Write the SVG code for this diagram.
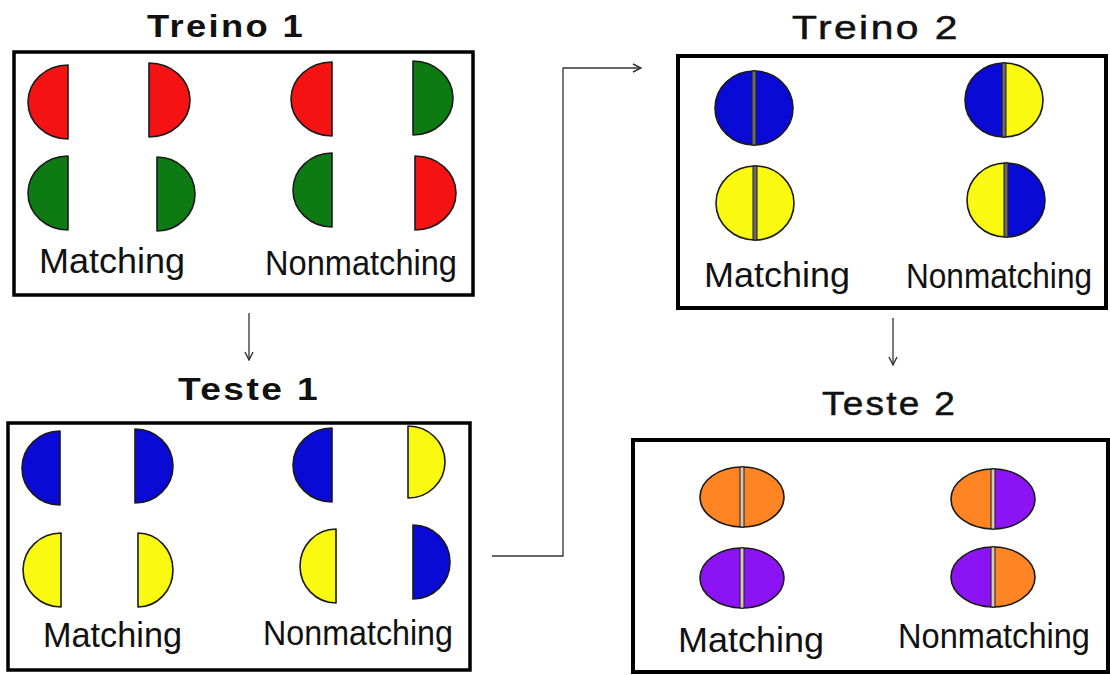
<svg xmlns="http://www.w3.org/2000/svg" width="1110" height="675" viewBox="0 0 1110 675">
<style>
.box{fill:#fff;stroke:#000;stroke-width:3.5}
.title{font-family:"Liberation Sans",Arial,sans-serif;fill:#111;letter-spacing:2px}
.t1{font-weight:bold;font-size:31px}
.t2{font-size:33px;stroke:#111;stroke-width:0.5}
.lbl{font-family:"Liberation Sans",Arial,sans-serif;font-size:35px;fill:#111}
.sh{stroke:#1a1a1a;stroke-width:1.6;stroke-linejoin:round}
.red{fill:#f41212}
.green{fill:#0e7a14}
.blue{fill:#0a0ad6}
.yellow{fill:#fafa10}
.orange{fill:#ff8424}
.purple{fill:#8c14f4}
.div{fill:#6a6a6a;stroke:#1a1a1a;stroke-width:1}
.divl{fill:#d8c8b8;stroke:#1a1a1a;stroke-width:1}
.conn{fill:none;stroke:#333;stroke-width:1.3}
</style>
<defs>
<marker id="chev" viewBox="0 0 10 10" refX="9" refY="5" markerWidth="10" markerHeight="10" markerUnits="userSpaceOnUse" orient="auto">
<path d="M1,1 L9,5 L1,9" fill="none" stroke="#333" stroke-width="1.4"/>
</marker>
</defs>
<rect width="1110" height="675" fill="#fff"/>

<g id="treino1">
<text class="title t1" x="147" y="37" textLength="158" lengthAdjust="spacingAndGlyphs">Treino 1</text>
<rect class="box" x="14" y="52" width="459" height="243"/>
<path class="sh red" d="M68,65 A40 37 0 0 0 68,139 Z"/>
<path class="sh red" d="M149,63 A41 37 0 0 1 149,137 Z"/>
<path class="sh red" d="M332,62 A41 37 0 0 0 332,136 Z"/>
<path class="sh green" d="M413,61 A40 37 0 0 1 413,135 Z"/>
<path class="sh green" d="M68,156 A40 37 0 0 0 68,230 Z"/>
<path class="sh green" d="M157,157 A38 37 0 0 1 157,231 Z"/>
<path class="sh green" d="M332,153 A39 37 0 0 0 332,227 Z"/>
<path class="sh red" d="M415,156 A41 37 0 0 1 415,230 Z"/>
<text class="lbl" x="39" y="273" textLength="146" lengthAdjust="spacingAndGlyphs">Matching</text>
<text class="lbl" x="265" y="275" textLength="192" lengthAdjust="spacingAndGlyphs">Nonmatching</text>
</g>

<g id="teste1">
<text class="title t1" x="178" y="400" textLength="142" lengthAdjust="spacingAndGlyphs">Teste 1</text>
<rect class="box" x="8" y="423" width="462" height="247"/>
<path class="sh blue" d="M60,431 A38 37 0 0 0 60,505 Z"/>
<path class="sh blue" d="M135,429 A38 37 0 0 1 135,503 Z"/>
<path class="sh blue" d="M332,428 A39 37 0 0 0 332,502 Z"/>
<path class="sh yellow" d="M408,426 A37 36 0 0 1 408,498 Z"/>
<path class="sh yellow" d="M61,533 A38 37 0 0 0 61,607 Z"/>
<path class="sh yellow" d="M138,533 A35 37 0 0 1 138,607 Z"/>
<path class="sh yellow" d="M336,529 A36 37 0 0 0 336,603 Z"/>
<path class="sh blue" d="M413,525 A37 37 0 0 1 413,599 Z"/>
<text class="lbl" x="43" y="647" textLength="139" lengthAdjust="spacingAndGlyphs">Matching</text>
<text class="lbl" x="263" y="645" textLength="190" lengthAdjust="spacingAndGlyphs">Nonmatching</text>
</g>

<g id="treino2">
<text class="title t2" x="792" y="39" textLength="168" lengthAdjust="spacingAndGlyphs">Treino 2</text>
<rect class="box" x="678" y="56" width="428" height="252" style="stroke-width:4"/>
<path class="sh blue" d="M754,71 A39 37 0 0 0 754,145 Z"/>
<path class="sh blue" d="M754,71 A39 37 0 0 1 754,145 Z"/>
<rect class="div" x="752" y="71" width="4" height="74"/>
<path class="sh blue" d="M1004,63 A39 37 0 0 0 1004,137 Z"/>
<path class="sh yellow" d="M1004,63 A39 37 0 0 1 1004,137 Z"/>
<rect class="div" x="1002" y="63" width="4" height="74"/>
<path class="sh yellow" d="M755,166 A39 37 0 0 0 755,240 Z"/>
<path class="sh yellow" d="M755,166 A39 37 0 0 1 755,240 Z"/>
<rect class="div" x="753" y="166" width="4" height="74"/>
<path class="sh yellow" d="M1006,163 A39 37 0 0 0 1006,237 Z"/>
<path class="sh blue" d="M1006,163 A39 37 0 0 1 1006,237 Z"/>
<rect class="div" x="1004" y="163" width="4" height="74"/>
<text class="lbl" x="704" y="287" textLength="146" lengthAdjust="spacingAndGlyphs">Matching</text>
<text class="lbl" x="906" y="288" textLength="186" lengthAdjust="spacingAndGlyphs">Nonmatching</text>
</g>

<g id="teste2">
<text class="title t2" x="822" y="415" textLength="135" lengthAdjust="spacingAndGlyphs">Teste 2</text>
<rect class="box" x="633" y="440" width="475" height="232" style="stroke-width:4"/>
<path class="sh orange" d="M742,467 A42 30 0 0 0 742,527 Z"/>
<path class="sh orange" d="M742,467 A42 30 0 0 1 742,527 Z"/>
<rect class="divl" x="740" y="467" width="4" height="60"/>
<path class="sh orange" d="M993,469 A42 30 0 0 0 993,529 Z"/>
<path class="sh purple" d="M993,469 A42 30 0 0 1 993,529 Z"/>
<rect class="divl" x="991" y="469" width="4" height="60"/>
<path class="sh purple" d="M742,548 A42 30 0 0 0 742,608 Z"/>
<path class="sh purple" d="M742,548 A42 30 0 0 1 742,608 Z"/>
<rect class="divl" x="740" y="548" width="4" height="60"/>
<path class="sh purple" d="M993,547 A42 30 0 0 0 993,607 Z"/>
<path class="sh orange" d="M993,547 A42 30 0 0 1 993,607 Z"/>
<rect class="divl" x="991" y="547" width="4" height="60"/>
<text class="lbl" x="678" y="652" textLength="146" lengthAdjust="spacingAndGlyphs">Matching</text>
<text class="lbl" x="898" y="648" textLength="192" lengthAdjust="spacingAndGlyphs">Nonmatching</text>
</g>

<g id="connectors">
<path class="conn" d="M249,313 V360" marker-end="url(#chev)"/>
<path class="conn" d="M492,556 H563 V68 H641" marker-end="url(#chev)"/>
<path class="conn" d="M893,318 V365" marker-end="url(#chev)"/>
</g>
</svg>
